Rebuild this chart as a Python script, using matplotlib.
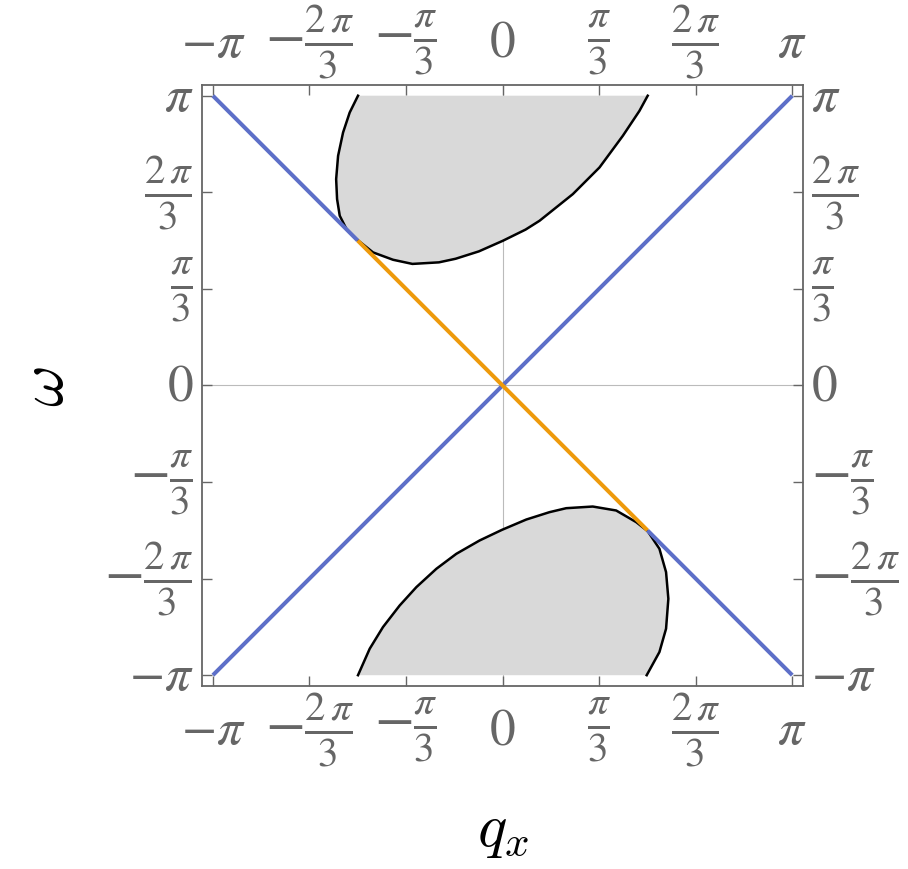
import numpy as np
import matplotlib
matplotlib.use("Agg")
import matplotlib.pyplot as plt
from matplotlib.ticker import FixedLocator, FixedFormatter

pi = np.pi

# boundary of the upper gray region
qx_up = [-1.568, -1.658, -1.730, -1.784, -1.805, -1.795, -1.766, -1.693, -1.585,
         -1.405, -1.188, -0.978, -0.690, -0.509, -0.257, 0.003, 0.249, 0.401, 0.762,
         1.051, 1.304, 1.484, 1.574]
w_up = [3.142, 2.960, 2.743, 2.490, 2.237, 2.021, 1.840, 1.696, 1.587,
        1.443, 1.363, 1.318, 1.335, 1.374, 1.454, 1.569, 1.690, 1.786, 2.075,
        2.364, 2.707, 2.977, 3.142]

# boundary of the lower gray region
qx_lo = [-1.568, -1.441, -1.297, -1.116, -0.935, -0.718, -0.502, -0.249, -0.007,
         0.257, 0.509, 0.690, 0.978, 1.232, 1.449, 1.574, 1.701, 1.773, 1.798,
         1.773, 1.701, 1.563]
w_lo = [-3.142, -2.855, -2.620, -2.386, -2.187, -1.988, -1.826, -1.681, -1.566,
        -1.454, -1.374, -1.331, -1.313, -1.356, -1.482, -1.580, -1.771, -2.024, -2.313,
        -2.638, -2.891, -3.142]

# straight branches
diag_q = [-pi, pi]
diag_w = [-pi, pi]
anti_left_q = [-pi, -pi/2]
anti_left_w = [pi, pi/2]
anti_right_q = [pi/2, pi]
anti_right_w = [-pi/2, -pi]
anti_mid_q = [-pi/2, pi/2]
anti_mid_w = [pi/2, -pi/2]

ticks = [-pi, -2*pi/3, -pi/3, 0, pi/3, 2*pi/3, pi]
tick_labels = [r'$-\pi$', r'$-\frac{2\,\pi}{3}$', r'$-\frac{\pi}{3}$', r'$0$',
               r'$\frac{\pi}{3}$', r'$\frac{2\,\pi}{3}$', r'$\pi$']
is_frac = [False, True, True, False, True, True, False]

plt.rcParams['mathtext.fontset'] = 'stix'

blue = '#5d6fc8'
orange = '#ee9a0c'
gray = '#666666'

fig = plt.figure(figsize=(9.08, 8.70), dpi=100)
ax = fig.add_axes([0.2225, 0.2103, 0.662, 0.691])

lim = pi + 0.118
ax.set_xlim(-lim, lim)
ax.set_ylim(-lim, lim)

ax.axvline(0, color='#bbbbbb', lw=0.8, zorder=0)
ax.axhline(0, color='#bbbbbb', lw=0.8, zorder=0)

ax.fill(qx_up, w_up, color='#d9d9d9', lw=0, zorder=1)
ax.fill(qx_lo, w_lo, color='#d9d9d9', lw=0, zorder=1)
ax.plot(qx_up, w_up, color='black', lw=1.8, zorder=2)
ax.plot(qx_lo, w_lo, color='black', lw=1.8, zorder=2)

ax.plot(diag_q, diag_w, color=blue, lw=2.9, zorder=3, solid_capstyle='butt')
ax.plot(anti_left_q, anti_left_w, color=blue, lw=2.9, zorder=3, solid_capstyle='butt')
ax.plot(anti_right_q, anti_right_w, color=blue, lw=2.9, zorder=3, solid_capstyle='butt')
ax.plot(anti_mid_q, anti_mid_w, color=orange, lw=2.9, zorder=3, solid_capstyle='butt')

for a in (ax.xaxis, ax.yaxis):
    a.set_major_locator(FixedLocator(ticks))
    a.set_major_formatter(FixedFormatter(tick_labels))

ax.tick_params(direction='in', length=7, width=1, color=gray, labelcolor=gray,
               labelsize=37, top=True, right=True, labeltop=True, labelright=True)
ax.tick_params(axis='x', pad=31)
ax.tick_params(axis='y', pad=6)
for s in ax.spines.values():
    s.set_color(gray)
    s.set_linewidth(1.3)

for a in (ax.xaxis, ax.yaxis):
    for tk, fr in zip(a.get_major_ticks(), is_frac):
        for lab in (tk.label1, tk.label2):
            lab.set_fontsize(42 if fr else 37)
            lab.set_va('center')

ax.set_xlabel(r'$q_x$', fontsize=44, math_fontfamily='cm')
ax.set_ylabel(r'$\omega$', fontsize=46, math_fontfamily='cm')
ax.xaxis.label.set_va('center')
ax.yaxis.label.set_va('center')
ax.xaxis.set_label_coords(0.5, -0.238)
ax.yaxis.set_label_coords(-0.261, 0.5)

fig.savefig('out.png', dpi=100)
